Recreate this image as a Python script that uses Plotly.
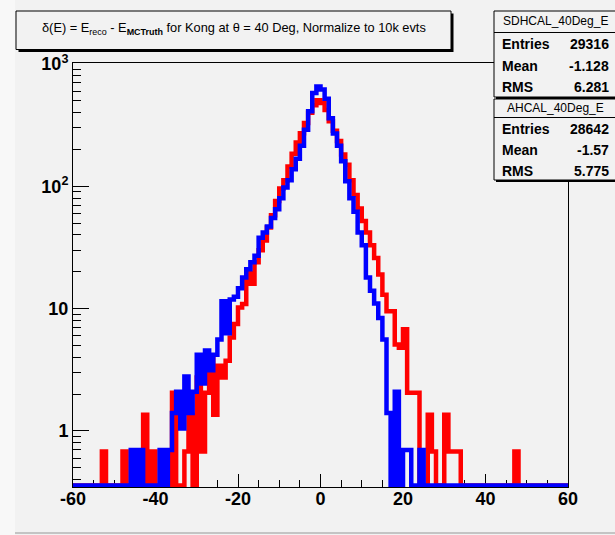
import numpy as np
import plotly.graph_objects as go

# ---- canvas geometry (pixels) ----
W, H = 615, 535
ML, MR, MT, MB = 73, 47, 63, 48

# ---- histogram binning: 120 bins of width 1 between -60 and 60 ----
x_lo, x_hi, bin_width = -60, 60, 1

# ---- normalised bin contents (10k events), bins from -60 upwards ----
sdhcal_counts = [
    0, 0, 0, 0, 0, 0, 0, 0.68, 0, 0,                       # -60 .. -51
    0, 0, 0.68, 0, 0, 0, 0, 1.36, 0, 0.68,                 # -50 .. -41
    0, 0, 0, 0, 2.05, 0, 0, 0.68, 1.36, 0,                 # -40 .. -31
    2.73, 0.68, 2.05, 4.09, 1.36, 3.41, 2.73, 3.75, 5.8, 7.5,   # -30 .. -21
    10.2, 10.9, 19.5, 16, 24, 30, 36, 46, 58, 76,          # -20 .. -11
    96, 112, 145, 185, 228, 272, 330, 400, 460, 505,       # -10 .. -1
    480, 420, 340, 285, 235, 182, 150, 112, 85, 66,        #   0 .. 9
    52, 42, 33, 26, 19, 13, 9.5, 9.5, 5.1, 4.8,            #  10 .. 19
    6.8, 2.05, 2.05, 2.05, 0, 0, 1.36, 0.68, 0, 0,         #  20 .. 29
    1.36, 0.68, 0.68, 0.68, 0, 0, 0, 0, 0, 0,              #  30 .. 39
    0, 0, 0, 0, 0, 0, 0, 0.68, 0, 0,                       #  40 .. 49
    0, 0, 0, 0, 0, 0, 0, 0, 0, 0,                          #  50 .. 59
]

ahcal_counts = [
    0, 0, 0, 0, 0, 0, 0, 0, 0, 0,                          # -60 .. -51
    0, 0, 0, 0, 0.70, 0, 0.70, 0, 0, 0,                    # -50 .. -41
    0, 0.70, 0, 0.70, 1.40, 2.09, 1.05, 2.79, 1.40, 2.09,  # -40 .. -31
    4.19, 2.44, 4.54, 3.14, 4.19, 5.6, 11.5, 6.3, 11.9, 12.5,   # -30 .. -21
    14.7, 18, 21, 24, 27, 38, 42, 47, 55, 65,              # -20 .. -11
    80, 98, 112, 138, 168, 215, 290, 410, 580, 655,        # -10 .. -1
    620, 520, 360, 270, 215, 160, 110, 80, 62, 42,         #   0 .. 9
    33, 18, 14, 11, 8.4, 5.6, 1.40, 0, 2.09, 0,            #  10 .. 19
    0.70, 0.70, 0, 0, 0.70, 0, 0, 0, 0, 0,                 #  20 .. 29
    0, 0, 0, 0, 0, 0, 0, 0, 0, 0,                          #  30 .. 39
    0, 0, 0, 0, 0, 0, 0, 0, 0, 0,                          #  40 .. 49
    0, 0, 0, 0, 0, 0, 0, 0, 0, 0,                          #  50 .. 59
]

# ---- axes ----
y_log_lo, y_log_hi = -0.458, 3.008
y_floor = 0.358          # contents below the frame bottom are drawn on it
x_tick_vals = [-60, -40, -20, 0, 20, 40, 60]
x_tick_text = ["-60", "-40", "-20", "0", "20", "40", "60"]
y_tick_vals = [1, 10, 100, 1000]
y_tick_text = ["1", "10", "10<sup>2</sup>", "10<sup>3</sup>"]
y_minor_vals = [m * d for d in (0.1, 1, 10, 100) for m in range(2, 10) if 0.36 < m * d < 1000]

# ---- statistics boxes ----
sdhcal_name = "SDHCAL_40Deg_E"
sdhcal_stats = [("Entries", "29316"), ("Mean", "-1.128"), ("RMS", "6.281")]
ahcal_name = "AHCAL_40Deg_E"
ahcal_stats = [("Entries", "28642"), ("Mean", "-1.57"), ("RMS", "5.775")]

title_text = ("δ(E) = E<sub>reco</sub> - E<sub><b>MCTruth</b></sub> "
              "for Kong at θ = 40 Deg, Normalize to 10k evts")

FONT = "Liberation Sans, Arial, Helvetica, sans-serif"
BG = "#f2f2f2"


def px(xp):
    return (xp - ML) / (W - ML - MR)


def py(yp):
    return 1 - (yp - MT) / (H - MT - MB)


x_edges = np.arange(x_lo, x_hi + bin_width, bin_width)


def step_y(counts):
    c = np.maximum(np.asarray(counts, dtype=float), y_floor)
    return np.append(c, c[-1])


fig = go.Figure()
fig.add_trace(go.Scatter(x=x_edges, y=step_y(sdhcal_counts), mode="lines",
                         line=dict(shape="hv", color="#ff0000", width=4.5),
                         name=sdhcal_name, hoverinfo="skip"))
fig.add_trace(go.Scatter(x=x_edges, y=step_y(ahcal_counts), mode="lines",
                         line=dict(shape="hv", color="#0000ff", width=4.5),
                         name=ahcal_name, hoverinfo="skip"))

shapes = []
# light strip on the left edge and border line at the bottom of the canvas
shapes.append(dict(type="rect", xref="paper", yref="paper", layer="below",
                   x0=px(0), x1=px(15), y0=py(535), y1=py(0),
                   fillcolor="#f8f8f8", line=dict(width=0)))
shapes.append(dict(type="line", xref="paper", yref="paper", layer="below",
                   x0=px(15), x1=px(615), y0=py(533), y1=py(533),
                   line=dict(color="#c4c4c4", width=2)))


def pave(x0, y0, x1, y1, shadow=2.5):
    # box with a dark drop shadow on the right and bottom
    shapes.append(dict(type="rect", xref="paper", yref="paper", layer="above",
                       x0=px(x0 + shadow), x1=px(x1 + shadow),
                       y0=py(y1 + shadow), y1=py(y0 + shadow),
                       fillcolor="#000000", line=dict(width=0)))
    shapes.append(dict(type="rect", xref="paper", yref="paper", layer="above",
                       x0=px(x0), x1=px(x1), y0=py(y1), y1=py(y0),
                       fillcolor=BG, line=dict(color="#000000", width=1)))


def hline(x0, x1, y):
    shapes.append(dict(type="line", xref="paper", yref="paper", layer="above",
                       x0=px(x0), x1=px(x1), y0=py(y), y1=py(y),
                       line=dict(color="#000000", width=1)))


pave(16, 11, 451, 49.5)
pave(494, 11, 618, 97, shadow=2)
hline(494, 618, 32.5)
pave(494, 99, 618, 180, shadow=2)
hline(494, 618, 117.5)

annotations = [dict(xref="paper", yref="paper", x=px(234), y=py(29),
                    text=title_text, showarrow=False, xanchor="center",
                    yanchor="middle", font=dict(family=FONT, size=12.8, color="black"))]


def stat_block(name, rows, y_name, y_rows):
    annotations.append(dict(xref="paper", yref="paper", x=px(555), y=py(y_name),
                            text=name, showarrow=False, xanchor="center", yanchor="middle",
                            font=dict(family=FONT, size=12, color="black")))
    for (label, value), yy in zip(rows, y_rows):
        annotations.append(dict(xref="paper", yref="paper", x=px(500), y=py(yy),
                                text=label, showarrow=False, xanchor="left", yanchor="middle",
                                font=dict(family=FONT, size=14, color="black", weight="bold")))
        annotations.append(dict(xref="paper", yref="paper", x=px(611), y=py(yy),
                                text=value, showarrow=False, xanchor="right", yanchor="middle",
                                font=dict(family=FONT, size=14, color="black", weight="bold")))


stat_block(sdhcal_name, sdhcal_stats, 21.5, [44, 66, 87])
stat_block(ahcal_name, ahcal_stats, 108, [129, 150, 171])

axis_font = dict(family=FONT, size=18, color="black", weight="bold")

fig.update_layout(
    width=W, height=H,
    margin=dict(l=ML, r=MR, t=MT, b=MB, autoexpand=False),
    paper_bgcolor=BG, plot_bgcolor=BG,
    showlegend=False,
    shapes=shapes, annotations=annotations,
    xaxis=dict(range=[x_lo, x_hi], tickmode="array", tickvals=x_tick_vals,
               ticktext=x_tick_text, ticks="inside", ticklen=13, tickwidth=1,
               tickcolor="black", showline=True, linecolor="black", linewidth=1,
               mirror=True, showgrid=False, zeroline=False, layer="below traces",
               tickfont=axis_font, ticklabelstandoff=-5,
               minor=dict(dtick=5, tick0=0, ticks="inside", ticklen=7,
                          tickcolor="black", tickwidth=1, showgrid=False)),
    yaxis=dict(type="log", range=[y_log_lo, y_log_hi], tickmode="array",
               tickvals=y_tick_vals, ticktext=y_tick_text, ticks="inside",
               ticklen=16, tickwidth=1, tickcolor="black", showline=True,
               linecolor="black", linewidth=1, mirror=True, showgrid=False,
               zeroline=False, layer="below traces", tickfont=axis_font,
               minor=dict(tickvals=y_minor_vals, ticks="inside", ticklen=8,
                          tickcolor="black", tickwidth=1, showgrid=False)),
)

fig.write_html("out.html")
